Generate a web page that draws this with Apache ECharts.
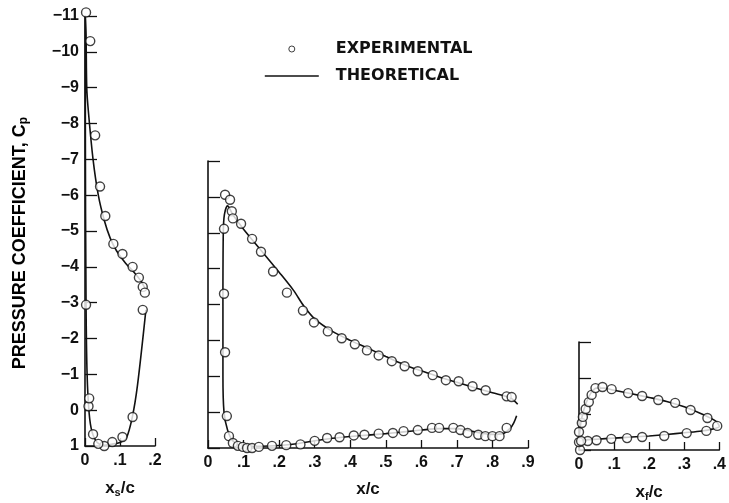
<!DOCTYPE html>
<html>
<head>
<meta charset="utf-8">
<script src="https://cdn.jsdelivr.net/npm/echarts@6/dist/echarts.min.js"></script>
<style>
html, body { margin: 0; padding: 0; background: #fff; }
#chart { width: 729px; height: 503px; }
</style>
</head>
<body>
<div id="chart"></div>
<script>
// slat, x_s/c vs Cp
var slatExp = [
	[0.003, -11.1], [0.015, -10.3], [0.029, -7.67], [0.043, -6.24], [0.058, -5.42], [0.081, -4.64],
	[0.107, -4.36], [0.136, -4.0], [0.154, -3.7], [0.165, -3.44], [0.171, -3.28],
	[0.165, -2.8], [0.136, 0.19], [0.107, 0.75], [0.078, 0.89], [0.055, 1.0], [0.038, 0.94],
	[0.023, 0.67], [0.01, -0.11], [0.012, -0.33], [0.003, -2.94]
];
var slatTheory = [
	[0.174, -2.8], [0.15, -0.7], [0.135, 0.2], [0.118, 0.78], [0.1, 0.9], [0.075, 0.95], [0.055, 0.98],
	[0.035, 0.9], [0.02, 0.6], [0.012, 0.1], [0.006, -1], [0.003, -3], [0.001, -8], [0.001, -11],
	[0.003, -10.5], [0.005, -9], [0.01, -8.3], [0.023, -7], [0.038, -6], [0.055, -5.3], [0.072, -4.8],
	[0.09, -4.45], [0.116, -4.1], [0.14, -3.85], [0.16, -3.6], [0.174, -3.35]
];
// main element, x/c vs Cp
var mainExp = [
	[0.048, -6.06], [0.062, -5.92], [0.067, -5.6], [0.07, -5.4], [0.093, -5.25], [0.124, -4.83],
	[0.149, -4.47], [0.183, -3.92], [0.222, -3.33], [0.267, -2.83], [0.298, -2.5], [0.337, -2.25],
	[0.376, -2.06], [0.413, -1.89], [0.447, -1.72], [0.48, -1.58], [0.517, -1.42], [0.553, -1.28],
	[0.59, -1.14], [0.632, -1.03], [0.669, -0.89], [0.705, -0.86], [0.744, -0.72], [0.781, -0.61],
	[0.84, -0.44], [0.854, -0.42],
	[0.045, -5.11], [0.045, -3.3], [0.048, -1.67], [0.053, 0.11], [0.059, 0.67], [0.07, 0.86],
	[0.084, 0.94], [0.098, 0.97], [0.11, 1.0], [0.124, 1.0], [0.143, 0.97], [0.18, 0.94], [0.22, 0.92],
	[0.26, 0.9], [0.30, 0.8], [0.335, 0.72], [0.37, 0.7], [0.41, 0.65], [0.44, 0.63], [0.48, 0.6],
	[0.52, 0.58], [0.55, 0.53], [0.59, 0.5], [0.63, 0.44], [0.65, 0.44], [0.69, 0.44], [0.71, 0.5],
	[0.73, 0.58], [0.76, 0.63], [0.78, 0.67], [0.80, 0.67], [0.82, 0.67], [0.84, 0.44]
];
var mainTheory = [
	[0.868, 0.1], [0.86, 0.3], [0.85, 0.45], [0.83, 0.6], [0.8, 0.62], [0.75, 0.55], [0.7, 0.46],
	[0.65, 0.46], [0.6, 0.5], [0.55, 0.55], [0.5, 0.6], [0.45, 0.64], [0.4, 0.68], [0.35, 0.73],
	[0.3, 0.8], [0.25, 0.88], [0.2, 0.93], [0.15, 0.95], [0.1, 0.95], [0.07, 0.8], [0.055, 0.5],
	[0.045, 0], [0.042, -1], [0.042, -3], [0.043, -5], [0.046, -5.5], [0.055, -5.75], [0.07, -5.5],
	[0.1, -5.1], [0.15, -4.5], [0.2, -3.9], [0.24, -3.4], [0.27, -2.95], [0.3, -2.6], [0.35, -2.25],
	[0.4, -2.0], [0.45, -1.78], [0.5, -1.55], [0.55, -1.33], [0.6, -1.15], [0.65, -0.98],
	[0.7, -0.83], [0.75, -0.68], [0.8, -0.54], [0.85, -0.4], [0.871, -0.22]
];
// flap, x_f/c vs Cp
var flapExp = [
	[0.003, 1.0], [0.0, 0.78], [0.0, 0.5], [0.008, 0.25], [0.011, 0.08], [0.019, -0.14], [0.028, -0.33],
	[0.036, -0.53], [0.047, -0.72], [0.067, -0.75], [0.093, -0.69], [0.14, -0.58], [0.18, -0.5],
	[0.226, -0.39], [0.274, -0.31], [0.318, -0.11], [0.366, 0.11], [0.394, 0.33],
	[0.363, 0.47], [0.307, 0.53], [0.243, 0.61], [0.18, 0.64], [0.137, 0.67], [0.092, 0.69],
	[0.05, 0.73], [0.025, 0.75], [0.006, 0.75]
];
var flapTheory = [
	[0.0, 0.9], [0.002, 0.5], [0.008, 0.1], [0.02, -0.3], [0.035, -0.6], [0.05, -0.72], [0.07, -0.72],
	[0.1, -0.66], [0.15, -0.56], [0.2, -0.46], [0.25, -0.35], [0.3, -0.2], [0.35, 0.0], [0.39, 0.2],
	[0.4, 0.35], [0.38, 0.42], [0.35, 0.47], [0.3, 0.52], [0.25, 0.57], [0.2, 0.61], [0.15, 0.64],
	[0.1, 0.67], [0.05, 0.7], [0.02, 0.72], [0.003, 0.75]
];
var xMax = [0.2, 0.9, 0.4];
var yMin = [-11, -7, -2];

var font = 'Liberation Sans';
var ink = '#111';

function xLabel(v) {
	if (v == 0) return '0';
	return (+v.toFixed(1)).toString().replace(/^0/, '');
}

function yLabel(v) {
	return String(v).replace('-', '\u2212');
}

var rich = {
	b: { color: ink, fontFamily: font, fontWeight: 'bold', fontSize: 17 },
	sub: { color: ink, fontFamily: font, fontWeight: 'bold', fontSize: 11, verticalAlign: 'bottom', padding: [8, 0, 0, 0] }
};
var titleRich = {
	b: { color: ink, fontFamily: font, fontWeight: 'bold', fontSize: 18 },
	sub: { color: ink, fontFamily: font, fontWeight: 'bold', fontSize: 12, verticalAlign: 'bottom', padding: [8, 0, 0, 0] }
};

function makeX(i, name) {
	return {
		type: 'value', gridIndex: i, min: 0, max: xMax[i], interval: 0.1,
		position: 'bottom',
		name: name, nameLocation: 'middle', nameGap: 33,
		nameTextStyle: { color: ink, fontFamily: font, fontWeight: 'bold', fontSize: 17, rich: rich },
		axisLine: { onZero: false, lineStyle: { color: ink, width: 1.6 } },
		axisTick: { inside: true, length: 8, lineStyle: { color: ink, width: 1.3 } },
		axisLabel: { color: ink, fontFamily: font, fontWeight: 'bold', fontSize: 16, margin: 7, formatter: xLabel },
		splitLine: { show: false }
	};
}

function makeY(i) {
	return {
		type: 'value', gridIndex: i, min: yMin[i], max: 1, interval: 1, inverse: true,
		axisLine: { show: true, onZero: false, lineStyle: { color: ink, width: 1.6 } },
		axisTick: { inside: true, length: 12, lineStyle: { color: ink, width: 1.3 } },
		axisLabel: { show: i == 0, color: ink, fontFamily: font, fontWeight: 'bold', fontSize: 16, margin: 6, formatter: yLabel },
		splitLine: { show: false }
	};
}

function expSeries(i, data) {
	return {
		name: 'EXPERIMENTAL', type: 'scatter', xAxisIndex: i, yAxisIndex: i, data: data,
		symbol: 'circle', symbolSize: 9, clip: false, z: 3,
		itemStyle: { color: '#fff', borderColor: ink, borderWidth: 1.4 }
	};
}

function theorySeries(i, data) {
	return {
		name: 'THEORETICAL', type: 'line', xAxisIndex: i, yAxisIndex: i, data: data,
		showSymbol: false, symbol: 'none', smooth: 0.3, z: 2,
		itemStyle: { color: ink },
		lineStyle: { color: ink, width: 1.6 }
	};
}

var chart = echarts.init(document.getElementById('chart'), null, { renderer: 'canvas' });
var option = {
	backgroundColor: '#fff',
	animation: false,
	legend: {
		orient: 'vertical', left: 259, top: 36, itemWidth: 54, itemHeight: 6, itemGap: 11,
		selectedMode: false,
		textStyle: { color: ink, fontFamily: 'DejaVu Sans', fontWeight: 'bold', fontSize: 16, padding: [0, 0, 0, 12] },
		data: [
			{ name: 'EXPERIMENTAL', icon: 'circle', itemStyle: { color: '#fff', borderColor: ink, borderWidth: 1 } },
			{ name: 'THEORETICAL', itemStyle: { opacity: 0 }, lineStyle: { color: ink, width: 1.6 } }
		]
	},
	graphic: [{
		type: 'text', x: 20, y: 243, rotation: Math.PI / 2,
		style: {
			text: '{b|PRESSURE COEFFICIENT, C}{sub|p}', rich: titleRich,
			align: 'center', verticalAlign: 'middle'
		}
	}],
	grid: [
		{ left: 85, top: 16, width: 70, height: 433 },
		{ left: 208, top: 161, width: 320, height: 288 },
		{ left: 579, top: 342, width: 143, height: 108 }
	],
	xAxis: [makeX(0, '{b|x}{sub|s}{b|/c}'), makeX(1, '{b|x/c}'), makeX(2, '{b|x}{sub|f}{b|/c}')],
	yAxis: [makeY(0), makeY(1), makeY(2)],
	series: [
		theorySeries(0, slatTheory), expSeries(0, slatExp),
		theorySeries(1, mainTheory), expSeries(1, mainExp),
		theorySeries(2, flapTheory), expSeries(2, flapExp)
	]
};
chart.setOption(option);
</script>
</body>
</html>
